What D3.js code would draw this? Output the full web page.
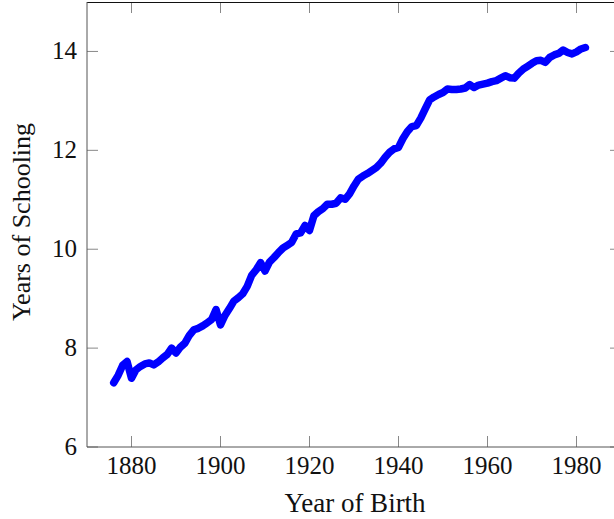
<!DOCTYPE html>
<meta charset="utf-8">
<script src="https://cdn.jsdelivr.net/npm/d3@7"></script>
<style>
body { margin: 0; background: #fff; }
.line { fill: none; stroke: #0000ff; stroke-width: 7.5px; stroke-linejoin: round; stroke-linecap: round; }
</style>
<body>
<script>
// birth years and average years of schooling
var years = [1876,1877,1878,1879,1880,1881,1882,1883,1884,1885,1886,1887,1888,1889,1890,
  1891,1892,1893,1894,1895,1896,1897,1898,1899,1900,1901,1902,1903,1904,1905,1906,1907,1908,1909,1910,
  1911,1912,1913,1914,1915,1916,1917,1918,1919,1920,1921,1922,1923,1924,1925,1926,1927,1928,1929,1930,
  1931,1932,1933,1934,1935,1936,1937,1938,1939,1940,1941,1942,1943,1944,1945,1946,1947,1948,1949,1950,
  1951,1952,1953,1954,1955,1956,1957,1958,1959,1960,1961,1962,1963,1964,1965,1966,1967,1968,1969,1970,
  1971,1972,1973,1974,1975,1976,1977,1978,1979,1980,1981,1982];
var schooling = [7.30,7.45,7.65,7.73,7.39,7.56,7.63,7.68,7.70,7.66,7.72,7.80,7.87,8.00,7.90,
  8.02,8.10,8.26,8.37,8.40,8.45,8.51,8.58,8.78,8.47,8.66,8.80,8.95,9.02,9.10,9.25,9.47,9.58,9.73,9.56,
  9.74,9.83,9.93,10.02,10.08,10.14,10.31,10.33,10.48,10.38,10.68,10.76,10.82,10.91,10.91,10.93,11.04,11.01,11.12,11.28,
  11.42,11.48,11.53,11.59,11.65,11.74,11.86,11.96,12.03,12.06,12.24,12.38,12.48,12.50,12.65,12.84,13.02,13.08,13.13,13.17,
  13.24,13.23,13.23,13.24,13.26,13.33,13.27,13.32,13.34,13.36,13.39,13.41,13.46,13.51,13.47,13.46,13.56,13.64,13.70,13.76,
  13.81,13.82,13.78,13.88,13.93,13.96,14.03,13.98,13.95,13.99,14.05,14.08];
var xTicks = [1880, 1900, 1920, 1940, 1960, 1980];
var yTicks = [6, 8, 10, 12, 14];

var W = 614, H = 519;
var margin = {top: 2, right: -7, bottom: 72, left: 87},
    width = W - margin.left - margin.right,
    height = H - margin.top - margin.bottom;
var FONT = "'Liberation Serif'";

var x = d3.scaleLinear().domain([1870, 1990]).range([0, width]);
var y = d3.scaleLinear().domain([6, 15]).range([height, 0]);

var svg = d3.select("body").append("svg")
    .attr("width", W)
    .attr("height", H)
  .append("g")
    .attr("transform", "translate(" + margin.left + "," + margin.top + ")");

var data = years.map(function(d, i) { return {year: d, v: schooling[i]}; });

var valueline = d3.line()
    .x(function(d) { return x(d.year); })
    .y(function(d) { return y(d.v); });

svg.append("path")
    .datum(data)
    .attr("class", "line")
    .attr("d", valueline);

// ticks (inside, mirrored)
var tl = 11;
var tk = svg.append("g").attr("stroke", "#888").attr("stroke-width", 1);
xTicks.forEach(function(t) {
  tk.append("line").attr("x1", x(t)).attr("x2", x(t)).attr("y1", height).attr("y2", height - tl);
  tk.append("line").attr("x1", x(t)).attr("x2", x(t)).attr("y1", 0).attr("y2", tl);
});
yTicks.forEach(function(t) {
  tk.append("line").attr("y1", y(t)).attr("y2", y(t)).attr("x1", 0).attr("x2", tl);
  tk.append("line").attr("y1", y(t)).attr("y2", y(t)).attr("x1", width).attr("x2", width - tl);
});

// frame
svg.append("line").attr("x1", 0).attr("x2", width).attr("y1", 0.5).attr("y2", 0.5).attr("stroke", "#111");
svg.append("line").attr("x1", 0).attr("x2", width).attr("y1", height).attr("y2", height).attr("stroke", "#555");
svg.append("line").attr("x1", 0).attr("x2", 0).attr("y1", 0).attr("y2", height).attr("stroke", "#555");
svg.append("line").attr("x1", width).attr("x2", width).attr("y1", 0).attr("y2", height).attr("stroke", "#555");

// tick labels
svg.selectAll(".xl").data(xTicks).enter().append("text")
    .attr("x", function(d) { return x(d); })
    .attr("y", height + 27)
    .attr("text-anchor", "middle")
    .style("font-family", FONT)
    .style("font-size", "25px")
    .style("fill", "#111")
    .text(function(d) { return d; });
svg.selectAll(".yl").data(yTicks).enter().append("text")
    .attr("x", -10)
    .attr("y", function(d) { return y(d) + 8; })
    .attr("text-anchor", "end")
    .style("font-family", FONT)
    .style("font-size", "25px")
    .style("fill", "#111")
    .text(function(d) { return d; });

// axis titles
svg.append("text")
    .attr("x", 355 - margin.left)
    .attr("y", 512 - margin.top)
    .attr("text-anchor", "middle")
    .style("font-family", FONT)
    .style("font-size", "27px")
    .style("fill", "#111")
    .text("Year of Birth");
svg.append("text")
    .attr("transform", "translate(" + (30 - margin.left) + "," + (222 - margin.top) + ") rotate(-90)")
    .attr("text-anchor", "middle")
    .style("font-family", FONT)
    .style("font-size", "26px")
    .style("fill", "#111")
    .text("Years of Schooling");
</script>
</body>
